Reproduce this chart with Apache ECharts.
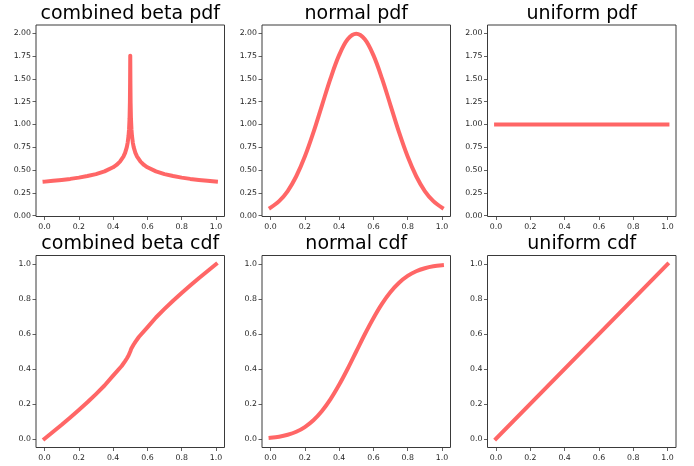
<!DOCTYPE html>
<html>
<head>
<meta charset="utf-8">
<script src="https://cdn.jsdelivr.net/npm/echarts@6/dist/echarts.min.js"></script>
<style>
html,body{margin:0;padding:0;background:#fff;}
#chart{width:694px;height:466px;}
</style>
</head>
<body>
<div id="chart"></div>
<script>
// ---- data ----
const titles = ["combined beta pdf", "normal pdf", "uniform pdf",
                "combined beta cdf", "normal cdf", "uniform cdf"];

const xTicks = [0, 0.2, 0.4, 0.6, 0.8, 1.0];
const pdfTicks = [0, 0.25, 0.5, 0.75, 1.0, 1.25, 1.5, 1.75, 2.0];
const cdfTicks = [0, 0.2, 0.4, 0.6, 0.8, 1.0];

const xBetaPdf = [0, 0.05, 0.1, 0.15, 0.2, 0.25, 0.3, 0.35, 0.4, 0.42, 0.44, 0.46, 0.47, 0.48, 0.485, 0.49, 0.493, 0.496, 0.498, 0.499,
                  0.5,
                  0.501, 0.502, 0.504, 0.507, 0.51, 0.515, 0.52, 0.53, 0.54, 0.56, 0.58, 0.6, 0.65, 0.7, 0.75, 0.8, 0.85, 0.9, 0.95, 1.0];
const betaPdf = [0.373, 0.382, 0.392, 0.403, 0.417, 0.434, 0.455, 0.485, 0.530, 0.556, 0.592, 0.647, 0.689, 0.752, 0.801, 0.875, 0.946, 1.069, 1.243, 1.447,
                 1.755,
                 1.447, 1.243, 1.069, 0.946, 0.875, 0.801, 0.752, 0.689, 0.647, 0.592, 0.556, 0.530, 0.485, 0.455, 0.434, 0.417, 0.403, 0.392, 0.382, 0.373];

const xBetaCdf = [0, 0.05, 0.1, 0.15, 0.2, 0.25, 0.3, 0.35, 0.4, 0.45, 0.47, 0.48, 0.49, 0.495, 0.5,
                  0.505, 0.51, 0.52, 0.53, 0.55, 0.6, 0.65, 0.7, 0.75, 0.8, 0.85, 0.9, 0.95, 1.0];
const betaCdf = [0, 0.040, 0.080, 0.122, 0.165, 0.209, 0.256, 0.305, 0.362, 0.417, 0.445, 0.460, 0.477, 0.486, 0.500,
                 0.514, 0.523, 0.540, 0.555, 0.583, 0.638, 0.695, 0.744, 0.791, 0.835, 0.878, 0.920, 0.960, 1.0];

const xNormal = [0, 0.05, 0.1, 0.15, 0.2, 0.25, 0.3, 0.35, 0.4, 0.45, 0.5, 0.55, 0.6, 0.65, 0.7, 0.75, 0.8, 0.85, 0.9, 0.95, 1.0];
const normalPdf = [0.088, 0.159, 0.270, 0.432, 0.648, 0.913, 1.210, 1.506, 1.760, 1.934, 1.995,
                   1.934, 1.760, 1.506, 1.210, 0.913, 0.648, 0.432, 0.270, 0.159, 0.088];
const normalCdf = [0.006, 0.012, 0.023, 0.040, 0.067, 0.106, 0.159, 0.227, 0.309, 0.401, 0.500,
                   0.599, 0.691, 0.773, 0.841, 0.894, 0.933, 0.960, 0.977, 0.988, 0.994];

const xUniform = [0, 1.0];
const uniformPdf = [1.0, 1.0];
const uniformCdf = [0, 1.0];

// ---- layout ----
const colLeft = [36, 262, 487.5];
const colWidth = 188.5;
const rowTop = [25, 255.5];
const rowHeight = [191.5, 192];

const seriesX = [xBetaPdf, xNormal, xUniform, xBetaCdf, xNormal, xUniform];
const seriesY = [betaPdf, normalPdf, uniformPdf, betaCdf, normalCdf, uniformCdf];
const smoothFlags = [false, 0.35, false, false, 0.35, false];

const frameColor = '#3a3a3a';
const labelColor = '#262626';
const font = 'DejaVu Sans';

const grids = [], xAxes = [], yAxes = [], series = [], titleOpts = [];
for (let i = 0; i < 6; i++) {
  const r = Math.floor(i / 3), c = i % 3;
  const isPdf = r === 0;
  grids.push({
    left: colLeft[c], top: rowTop[r], width: colWidth, height: rowHeight[r],
    show: true, borderColor: frameColor, borderWidth: 1, backgroundColor: 'transparent',
    containLabel: false
  });
  xAxes.push({
    type: 'value', gridIndex: i, min: -0.05, max: 1.05, position: 'bottom',
    axisLine: { show: false, onZero: false },
    axisTick: { show: true, inside: false, length: 3.5, lineStyle: { color: frameColor, width: 0.8 }, customValues: xTicks },
    axisLabel: { show: true, customValues: xTicks, formatter: v => v.toFixed(1), color: labelColor,
                 fontSize: 7.8, fontFamily: font, margin: 6 },
    splitLine: { show: false }
  });
  const yt = isPdf ? pdfTicks : cdfTicks;
  yAxes.push({
    type: 'value', gridIndex: i, position: 'left',
    min: isPdf ? -0.0095 : -0.05, max: isPdf ? 2.091 : 1.05,
    axisLine: { show: false, onZero: false },
    axisTick: { show: true, inside: false, length: 3.5, lineStyle: { color: frameColor, width: 0.8 }, customValues: yt },
    axisLabel: { show: true, customValues: yt, formatter: v => v.toFixed(isPdf ? 2 : 1), color: labelColor,
                 fontSize: 7.8, fontFamily: font, margin: 5 },
    splitLine: { show: false }
  });
  const xs = seriesX[i], ys = seriesY[i];
  series.push({
    type: 'line', xAxisIndex: i, yAxisIndex: i,
    data: xs.map((x, k) => [x, ys[k]]),
    showSymbol: false, smooth: smoothFlags[i], animation: false,
    lineStyle: { color: 'rgba(255,0,0,0.6)', width: 4, join: 'round', cap: 'square' },
    clip: false
  });
  titleOpts.push({
    text: titles[i], left: colLeft[c] + colWidth / 2, top: isPdf ? 3 : 233.5,
    textAlign: 'center', padding: 0,
    textStyle: { fontSize: 19, fontWeight: 'normal', color: '#000', fontFamily: font, lineHeight: 22 }
  });
}

const chart = echarts.init(document.getElementById('chart'), null, { renderer: 'canvas' });
chart.setOption({
  animation: false,
  backgroundColor: '#fff',
  title: titleOpts,
  grid: grids,
  xAxis: xAxes,
  yAxis: yAxes,
  series: series
});
</script>
</body>
</html>
